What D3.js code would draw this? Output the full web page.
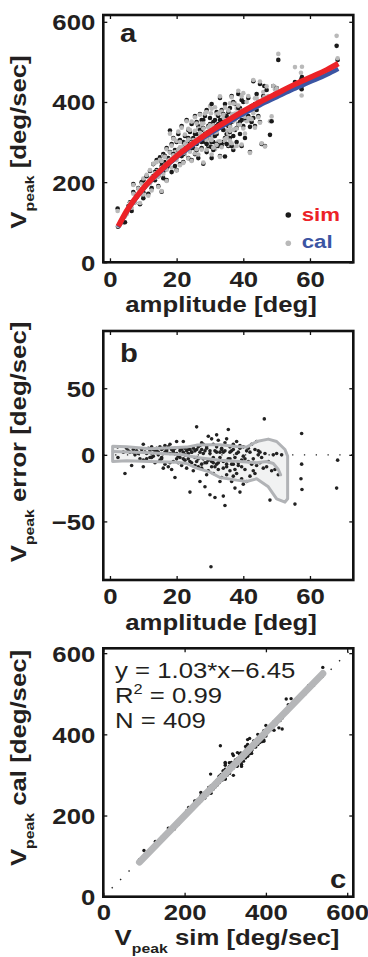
<!DOCTYPE html>
<html>
<head>
<meta charset="utf-8">
<script src="https://cdn.jsdelivr.net/npm/d3@7"></script>
<style>
html, body { margin: 0; padding: 0; background: #fff; }
svg { display: block; }
text { white-space: pre; }
</style>
</head>
<body>
<svg width="368" height="957"></svg>
<script>
// saccade amplitude [deg], peak velocity of simulated and calibrated saccades [deg/sec]
var amplitude = [
    2.4, 2.3, 4.0, 4.5, 5.0, 5.5, 6.0, 6.5, 7.0, 7.0,
    7.5, 8.0, 8.5, 9.0, 9.5, 10.0, 10.0, 10.0, 10.5, 11.0,
    11.5, 12.0, 12.0, 12.5, 13.0, 13.0, 13.5, 14.0, 14.0, 14.5,
    15.0, 15.0, 15.5, 15.5, 16.0, 16.0, 16.5, 16.5, 17.0, 17.0,
    17.5, 17.5, 18.0, 18.0, 18.5, 18.5, 19.0, 19.0, 19.5, 19.5,
    20.0, 20.0, 20.0, 20.5, 21.0, 21.0, 21.5, 21.5, 22.0, 22.0,
    22.5, 22.5, 23.0, 23.0, 23.5, 23.5, 24.0, 24.0, 24.5, 24.5,
    25.0, 25.0, 25.5, 25.5, 26.0, 26.0, 26.5, 26.5, 27.0, 27.0,
    27.5, 27.5, 28.0, 28.0, 28.5, 28.5, 29.0, 29.0, 29.5, 29.5,
    30.3, 30.0, 30.0, 30.5, 30.5, 31.0, 31.0, 31.5, 31.5, 32.0,
    32.0, 32.5, 32.5, 33.0, 33.0, 33.5, 33.5, 34.0, 34.0, 34.5,
    34.5, 35.0, 35.0, 35.5, 35.5, 36.0, 36.0, 36.5, 36.5, 37.0,
    37.0, 37.5, 37.5, 38.0, 38.0, 38.5, 38.5, 39.0, 39.0, 39.5,
    39.5, 40.0, 40.0, 40.0, 40.5, 41.0, 41.0, 41.5, 42.0, 42.0,
    42.5, 43.0, 43.0, 43.5, 44.0, 44.0, 44.5, 45.0, 45.0, 45.5,
    46.0, 46.3, 46.5, 47.0, 47.5, 48.0, 48.5, 49.0, 49.5, 50.0,
    50.5, 51.5, 55.5, 57.5, 57.5, 57.3, 57.6, 68.0, 68.3, 11.0,
    12.5, 13.5, 14.5, 15.5, 16.5, 17.0, 18.0, 19.0, 20.5, 21.0,
    22.0, 22.5, 23.5, 24.0, 24.5, 25.5, 26.0, 26.5, 27.0, 27.5,
    28.0, 28.5, 29.0, 29.5, 30.0, 30.5, 31.0, 31.5, 32.0, 32.5,
    33.0, 33.5, 34.0, 34.5, 35.0, 35.5, 36.0, 36.5, 37.0, 37.5,
    38.0, 38.5, 39.0, 39.5, 40.5, 41.5, 42.5, 43.5, 44.5, 26.0,
    27.5, 29.0, 31.0, 32.0, 33.0, 34.0, 35.0, 36.0, 37.0
];
var vSim = [
    89, 134, 100, 100, 125, 140, 150, 128, 175, 195,
    150, 165, 185, 145, 200, 175, 160, 205, 190, 215,
    171, 200, 228, 185, 215, 245, 205, 230, 255, 190,
    225, 262, 176, 240, 210, 270, 250, 230, 285, 205,
    260, 240, 329, 275, 225, 295, 255, 310, 240, 280,
    265, 300, 230, 320, 245, 285, 340, 265, 300, 250,
    315, 275, 355, 290, 260, 330, 300, 280, 345, 255,
    310, 285, 365, 270, 320, 295, 340, 260, 310, 370,
    285, 330, 246, 355, 300, 320, 275, 380, 340, 290,
    288, 360, 310, 260, 395, 330, 300, 355, 285, 375,
    320, 345, 290, 410, 265, 335, 380, 300, 355, 264,
    395, 320, 365, 340, 290, 385, 310, 350, 415, 280,
    360, 330, 395, 300, 370, 345, 420, 320, 385, 355,
    290, 400, 340, 370, 310, 380, 355, 410, 338, 275,
    390, 452, 360, 340, 420, 380, 400, 445, 350, 295,
    415, 440, 290, 430, 410, 318, 352, 440, 420, 435,
    505, 425, 450, 432, 440, 455, 462, 540, 505, 195,
    210, 225, 215, 250, 265, 235, 250, 270, 280, 305,
    270, 295, 310, 325, 300, 320, 350, 305, 330, 300,
    335, 365, 310, 325, 345, 300, 350, 315, 295, 365,
    300, 292, 330, 310, 295, 375, 340, 290, 400, 360,
    335, 385, 350, 405, 360, 365, 350, 395, 365, 280,
    355, 295, 280, 340, 355, 370, 345, 325, 315
];
var vCal = [
    91, 128, 98, 114, 120, 137, 148, 136, 171, 193,
    150, 162, 184, 148, 196, 167, 169, 209, 188, 218,
    166, 197, 230, 179, 211, 246, 211, 227, 250, 188,
    229, 256, 178, 236, 220, 265, 243, 237, 282, 203,
    254, 249, 321, 274, 236, 291, 260, 308, 257, 275,
    255, 303, 229, 326, 242, 287, 336, 273, 290, 248,
    319, 270, 352, 300, 259, 333, 328, 276, 351, 253,
    305, 297, 362, 272, 299, 300, 334, 269, 330, 368,
    281, 337, 249, 347, 324, 317, 281, 375, 326, 294,
    372, 390, 309, 269, 383, 332, 314, 387, 282, 369,
    327, 334, 301, 414, 263, 352, 376, 331, 360, 302,
    386, 329, 353, 321, 293, 397, 304, 370, 412, 287,
    352, 355, 397, 290, 384, 343, 428, 348, 380, 373,
    294, 422, 334, 371, 321, 400, 352, 415, 354, 273,
    382, 455, 372, 336, 410, 388, 400, 451, 348, 297,
    425, 413, 289, 439, 415, 352, 364, 440, 431, 434,
    520, 425, 487, 416, 447, 473, 488, 565, 509, 194,
    212, 222, 215, 253, 263, 231, 256, 267, 281, 300,
    273, 295, 306, 330, 298, 328, 346, 308, 323, 310,
    334, 371, 304, 337, 342, 305, 342, 324, 293, 371,
    302, 287, 340, 307, 310, 379, 338, 297, 396, 371,
    334, 391, 343, 414, 363, 360, 357, 409, 362, 282,
    346, 310, 286, 325, 375, 368, 352, 328, 331
];

// fitted main-sequence curves (panel a)
var fitAmp = [2.5, 5, 10, 15, 20, 25, 30, 35, 40, 45, 50, 55, 60, 65, 68.5];
var fitSim = [90, 128, 185, 228, 265, 297, 326, 352, 377, 400, 421, 442, 461, 480, 496];
var fitCal = [88, 126, 183, 225, 262, 293, 321, 346, 370, 392, 412, 432, 450, 468, 483];

// error band and median (panel b)
var bandAmp = [0.8, 5, 12, 20, 23, 26, 30, 33, 38, 41, 44, 47.5, 50, 52.5, 53.3];
var bandHi = [6.5, 6, 4.5, 5.5, 5.8, 7.3, 7.5, 7.5, 6.3, 5.8, 10, 11.8, 10, 4, -1];
var bandLo = [-5, -4.5, -5, -5.5, -6.5, -10, -13, -17, -19, -20, -18, -24, -33, -35.5, -33];
var medAmp = [1, 12, 22, 26, 33, 39, 44, 47, 49, 50.5, 51.2];
var medErr = [2.5, 1.5, 0, -2, -4, -5, -6, -5, -6.5, -11, -15];

// regression shown in panel c
var regSlope = 1.03, regIntercept = -6.45, regR2 = "0.99", regN = 409;

var ampTicks = [0, 20, 40, 60],
    velTicks = [0, 200, 400, 600],
    errTicks = [-50, 0, 50];

var svg = d3.select("svg"),
    font = "'Liberation Sans', Arial, Helvetica, sans-serif",
    ink = "#231f20",
    SX = 1.17,
    left = 103.3, right = 353.3;

var xA = d3.scaleLinear().domain([-2, 73]).range([left, right]),
    yA = d3.scaleLinear().domain([0, 617]).range([262.3, 15]),
    yB = d3.scaleLinear().domain([-94, 93]).range([580, 331]),
    xC = d3.scaleLinear().domain([0, 615]).range([left, right]),
    yC = d3.scaleLinear().domain([0, 612]).range([896.7, 648.3]);

function drawAxes(x, y, xt, yt, labelDrop) {
    var yb = y.range()[0], yt0 = y.range()[1], xl = x.range()[0], xr = x.range()[1];
    var bottom = svg.append("g").attr("transform", "translate(0," + yb + ")")
        .call(d3.axisBottom(x).tickValues(xt).tickSize(-4));
    var top = svg.append("g").attr("transform", "translate(0," + yt0 + ")")
        .call(d3.axisTop(x).tickValues(xt).tickSize(-4).tickFormat(""));
    var lft = svg.append("g").attr("transform", "translate(" + xl + ",0)")
        .call(d3.axisLeft(y).tickValues(yt).tickSize(-4));
    var rgt = svg.append("g").attr("transform", "translate(" + xr + ",0)")
        .call(d3.axisRight(y).tickValues(yt).tickSize(-4).tickFormat(""));
    [bottom, top, lft, rgt].forEach(function (a) {
        a.select(".domain").remove();
        a.selectAll("line").attr("stroke", "#111").attr("stroke-width", 1.3);
        a.attr("font-family", font).attr("font-size", 22).attr("font-weight", "bold");
    });
    bottom.selectAll("text").attr("y", labelDrop).attr("dy", null).attr("fill", ink)
        .attr("transform", "scale(" + SX + ",1)");
    lft.selectAll("text").attr("x", -8 / SX).attr("dy", "0.36em").attr("fill", ink)
        .attr("transform", "scale(" + SX + ",1)");
    svg.append("rect")
        .attr("x", xl).attr("y", yt0)
        .attr("width", xr - xl).attr("height", yb - yt0)
        .attr("fill", "none").attr("stroke", "#111").attr("stroke-width", 2.6);
}

function stretchText(x, y, txt, size, weight, color, anchor, rot) {
    return svg.append("text")
        .attr("transform", "translate(" + x + "," + y + ")" + (rot ? " rotate(-90)" : "") + " scale(" + SX + ",1)")
        .attr("text-anchor", anchor || "start")
        .attr("font-family", font).attr("font-size", size)
        .attr("font-weight", weight).attr("fill", color)
        .text(txt);
}

function vTitle(x, y, rest, rot) {
    var t = stretchText(x, y, null, 22, "bold", ink, "middle", rot);
    t.append("tspan").text("V");
    t.append("tspan").attr("font-size", 13.5).attr("dy", 8).text("peak");
    t.append("tspan").attr("dy", -8).text(" " + rest);
}

var pts = amplitude.map(function (a, i) {
    return {amp: a, sim: vSim[i], cal: vCal[i], err: vSim[i] - vCal[i]};
});

// ---------- panel a ----------
var gA = svg.append("g");
var pairs = [];
pts.forEach(function (d) {
    pairs.push({amp: d.amp, v: d.sim, c: "#1a1a1a"});
    pairs.push({amp: d.amp, v: d.cal, c: "#b9b9b9"});
});
gA.selectAll("circle")
    .data(pairs)
    .enter().append("circle")
    .attr("cx", d => xA(d.amp))
    .attr("cy", d => yA(d.v))
    .attr("r", 2.3)
    .attr("fill", d => d.c);

var fitLine = function (vals) {
    return d3.line().curve(d3.curveMonotoneX)
        .x((d, i) => xA(fitAmp[i]))
        .y(d => yA(d))(vals);
};
gA.append("path").attr("d", fitLine(fitCal))
    .attr("fill", "none").attr("stroke", "#3b55a3").attr("stroke-width", 4.5);
gA.append("path").attr("d", fitLine(fitSim))
    .attr("fill", "none").attr("stroke", "#ec2227").attr("stroke-width", 5.5);

drawAxes(xA, yA, ampTicks, velTicks, 24.5);
stretchText(120, 41.7, "a", 25, "bold", ink);
svg.append("circle").attr("cx", 288.3).attr("cy", 215).attr("r", 2.8).attr("fill", "#1a1a1a");
svg.append("circle").attr("cx", 288.3).attr("cy", 243.3).attr("r", 2.8).attr("fill", "#b9b9b9");
stretchText(301.7, 220.7, "sim", 19, "bold", "#ec2227");
stretchText(301.7, 248.3, "cal", 19, "bold", "#3b55a3");
vTitle(26, 142, "[deg/sec]", true);
stretchText(221, 312, "amplitude [deg]", 22, "bold", ink, "middle");

// ---------- panel b ----------
var gB = svg.append("g");
var band = bandAmp.map((a, i) => ({amp: a, hi: bandHi[i], lo: bandLo[i]}));
gB.append("path")
    .attr("d", d3.area().x(d => xA(d.amp)).y0(d => yB(d.lo)).y1(d => yB(d.hi))(band))
    .attr("fill", "#f1f2f2");
gB.append("line")
    .attr("x1", xA(-2)).attr("x2", xA(73))
    .attr("y1", yB(0)).attr("y2", yB(0))
    .attr("stroke", "#222").attr("stroke-width", 1.3)
    .attr("stroke-dasharray", "1.3,10.5");
gB.selectAll("circle")
    .data(pts)
    .enter().append("circle")
    .attr("cx", d => xA(d.amp))
    .attr("cy", d => yB(d.err))
    .attr("r", 1.8)
    .attr("fill", "#222");
var outline = band.map(d => [d.amp, d.hi]).concat(band.slice().reverse().map(d => [d.amp, d.lo]));
gB.append("path")
    .attr("d", d3.line().x(d => xA(d[0])).y(d => yB(d[1]))(outline) + "Z")
    .attr("fill", "none").attr("stroke", "#b1b3b6").attr("stroke-width", 3)
    .attr("stroke-linejoin", "round");
gB.append("path")
    .attr("d", d3.line().x((d, i) => xA(medAmp[i])).y(d => yB(d))(medErr))
    .attr("fill", "none").attr("stroke", "#b1b3b6").attr("stroke-width", 3)
    .attr("stroke-linejoin", "round").attr("stroke-linecap", "round");

drawAxes(xA, yB, ampTicks, errTicks, 24);
stretchText(120, 361.7, "b", 25, "bold", ink);
vTitle(26, 442, "error [deg/sec]", true);
stretchText(221, 630, "amplitude [deg]", 22, "bold", ink, "middle");

// ---------- panel c ----------
var gC = svg.append("g");
gC.append("line")
    .attr("x1", xC(0)).attr("y1", yC(0))
    .attr("x2", xC(612)).attr("y2", yC(612))
    .attr("stroke", "#222").attr("stroke-width", 1.4)
    .attr("stroke-dasharray", "1.4,10.5");
gC.selectAll("circle")
    .data(pts)
    .enter().append("circle")
    .attr("cx", d => xC(d.sim))
    .attr("cy", d => yC(d.cal))
    .attr("r", 1.7)
    .attr("fill", "#1a1a1a");
var simExt = d3.extent(vSim);
gC.append("line")
    .attr("x1", xC(simExt[0])).attr("y1", yC(regSlope * simExt[0] + regIntercept))
    .attr("x2", xC(simExt[1])).attr("y2", yC(regSlope * simExt[1] + regIntercept))
    .attr("stroke", "#b5b6b8").attr("stroke-width", 7).attr("stroke-linecap", "round");

drawAxes(xC, yC, velTicks, velTicks, 23.5);
stretchText(115, 678, "y = " + regSlope + "*x\u2212" + Math.abs(regIntercept), 22, "normal", ink);
var r2 = stretchText(115, 703, null, 22, "normal", ink);
r2.append("tspan").text("R");
r2.append("tspan").attr("font-size", 14).attr("dy", -9).text("2");
r2.append("tspan").attr("dy", 9).text(" = " + regR2);
stretchText(115, 728, "N = " + regN, 22, "normal", ink);
stretchText(330, 888, "c", 25, "bold", ink);
vTitle(26, 758, "cal [deg/sec]", true);
vTitle(227, 945, "sim [deg/sec]", false);
</script>
</body>
</html>
